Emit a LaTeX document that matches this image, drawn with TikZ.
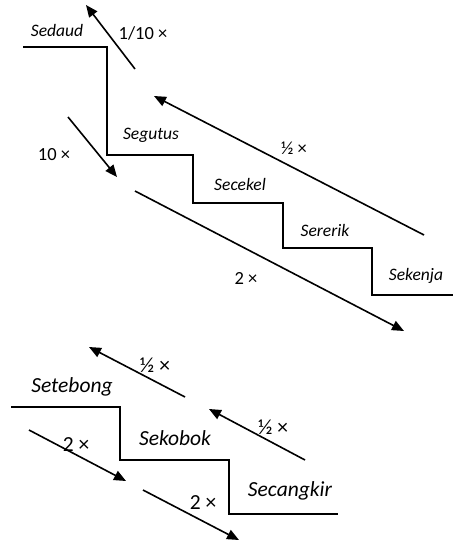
\documentclass[tikz,border=0pt]{standalone}
\usepackage{fontspec}
\setmainfont{Carlito}
\usetikzlibrary{arrows.meta, positioning}

\begin{document}
\begin{tikzpicture}[
  x=1pt, y=-1pt,
  stair/.style={line width=1.2pt},
  stairbold/.style={line width=2.6pt},
  conv/.style={-{Triangle[length=12pt, width=10pt]}, line width=1.6pt},
  unit/.style={font=\fontsize{17.5}{19}\selectfont\itshape, inner sep=0pt},
  unitbig/.style={font=\fontsize{21.5}{23}\selectfont\itshape, inner sep=0pt},
  factor/.style={font=\fontsize{18.5}{20}\selectfont, inner sep=0pt},
  factorbig/.style={font=\fontsize{21.5}{23}\selectfont, inner sep=0pt}
]
\useasboundingbox (0,0) rectangle (453,544);

% upper stairs
\coordinate (u0) at (23,47);
\coordinate (u1) at (107,47);
\coordinate (u2) at (107,155);
\coordinate (u3) at (193,155);
\coordinate (u4) at (193,203);
\coordinate (u5) at (283,203);
\coordinate (u6) at (283,248);
\coordinate (u7) at (372,248);
\coordinate (u8) at (372,295);
\coordinate (u9) at (453,295);
\draw[stair] (u0) -- (u1) -- (u2) -- (u3) -- (u4) -- (u5) -- (u6) -- (u7) -- (u8) -- (u9);

\node[unit] (sedaud) at (57,30) {Sedaud};
\node[unit] (segutus) at (151,135) {Segutus};
\node[unit] (secekel) at (240,184) {Secekel};
\node[unit] (sererik) at (325,230) {Sererik};
\node[unit] (sekenja) at (416,276) {Sekenja};

% upper conversions
\coordinate (tenth-a) at (135,69);
\coordinate (tenth-b) at (86,5);
\coordinate (ten-a) at (68,117);
\coordinate (ten-b) at (117,177);
\coordinate (half-a) at (424,235);
\coordinate (half-b) at (154,96);
\coordinate (two-a) at (135,191);
\coordinate (two-b) at (404,331);
\draw[conv] (tenth-a) -- (tenth-b);
\draw[conv] (ten-a) -- (ten-b);
\draw[conv] (half-a) -- (half-b);
\draw[conv] (two-a) -- (two-b);

\node[factor] (f-tenth) at (143,33) {1/10 ×};
\node[factor] (f-ten) at (54,155) {10 ×};
\node[factor] (f-half) at (294,148) {½ ×};
\node[factor] (f-two) at (246,278) {2 ×};

% lower stairs
\coordinate (l0) at (11,407);
\coordinate (l1) at (120,407);
\coordinate (l2) at (120,460);
\coordinate (l3) at (229,460);
\coordinate (l4) at (229,514);
\coordinate (l5) at (338,514);
\draw[stairbold] (l0) -- (l1) -- (l2) -- (l3) -- (l4) -- (l5);

\node[unitbig] (setebong) at (72,387) {Setebong};
\node[unitbig] (sekobok) at (175,438) {Sekobok};
\node[unitbig] (secangkir) at (290,491) {Secangkir};

% lower conversions
\coordinate (lhalf1-a) at (185,397);
\coordinate (lhalf1-b) at (89,347);
\coordinate (lhalf2-a) at (305,460);
\coordinate (lhalf2-b) at (209,409);
\coordinate (ltwo1-a) at (29,430);
\coordinate (ltwo1-b) at (126,481);
\coordinate (ltwo2-a) at (143,490);
\coordinate (ltwo2-b) at (239,540);
\draw[conv] (lhalf1-a) -- (lhalf1-b);
\draw[conv] (lhalf2-a) -- (lhalf2-b);
\draw[conv] (ltwo1-a) -- (ltwo1-b);
\draw[conv] (ltwo2-a) -- (ltwo2-b);

\node[factorbig] (lf-half1) at (155,365) {½ ×};
\node[factorbig] (lf-half2) at (273,427) {½ ×};
\node[factorbig] (lf-two1) at (76,445) {2 ×};
\node[factorbig] (lf-two2) at (203,503) {2 ×};
\end{tikzpicture}
\end{document}
